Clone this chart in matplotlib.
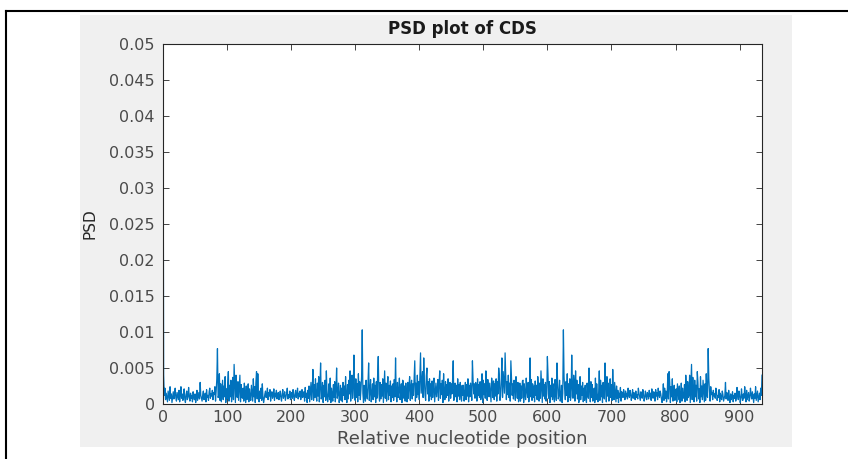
# PSD plot of CDS, MATLAB-style figure.

import numpy as np
import matplotlib.pyplot as plt
from matplotlib.lines import Line2D
from matplotlib.patches import Rectangle

# PSD values for k = 0..468 in units of 1e-4.
# The spectrum of a real sequence is symmetric, so the rest is the mirror.
psd_half_e4 = [
    495, 40, 12, 22, 6, 15, 9, 3, 18, 11, 5, 24, 8, 14, 2, 10, 17, 7, 13, 22,
    9, 4, 16, 11, 6, 19, 3, 12, 24, 8, 14, 5, 10, 21, 7, 2, 13, 18, 6, 11,
    23, 9, 4, 15, 8, 12, 3, 17, 10, 6, 14, 2, 9, 19, 5, 11, 16, 7, 30, 12,
    8, 4, 13, 18, 6, 10, 15, 3, 20, 9, 12, 5, 17, 22, 8, 14, 11, 19, 6, 16,
    13, 24, 4, 18, 35, 77, 9, 12, 42, 5, 28, 3, 19, 33, 6, 25, 10, 38, 2, 21,
    7, 30, 45, 4, 26, 10, 33, 3, 15, 37, 6, 55, 28, 2, 40, 12, 9, 31, 5, 24,
    40, 3, 27, 10, 8, 22, 4, 29, 11, 2, 25, 6, 16, 28, 3, 21, 9, 5, 26, 14,
    4, 35, 10, 24, 2, 30, 45, 7, 42, 12, 3, 18, 8, 22, 5, 28, 11, 2, 7, 14,
    18, 9, 13, 22, 6, 16, 11, 20, 4, 14, 17, 8, 12, 21, 5, 15, 10, 19, 7, 13,
    16, 6, 11, 18, 9, 4, 14, 20, 8, 12, 17, 5, 10, 15, 22, 7, 13, 9, 18, 6,
    12, 16, 8, 20, 11, 5, 14, 19, 9, 13, 22, 7, 15, 10, 18, 6, 12, 20, 9, 14,
    17, 4, 23, 9, 15, 2, 19, 8, 25, 3, 16, 30, 6, 20, 48, 5, 27, 9, 35, 12,
    4, 29, 11, 38, 3, 25, 57, 7, 12, 30, 2, 26, 10, 33, 5, 46, 15, 3, 12, 28,
    6, 36, 2, 22, 14, 4, 27, 9, 31, 3, 20, 50, 8, 14, 29, 2, 10, 26, 5, 22,
    3, 30, 12, 25, 6, 38, 10, 2, 27, 7, 33, 14, 46, 4, 29, 40, 8, 23, 68, 11,
    5, 35, 9, 28, 3, 42, 12, 31, 6, 20, 38, 103, 15, 2, 26, 9, 4, 33, 12, 7,
    29, 57, 5, 16, 34, 3, 13, 28, 6, 36, 10, 26, 2, 31, 8, 40, 66, 14, 4, 30,
    7, 27, 11, 35, 2, 24, 46, 8, 29, 4, 23, 38, 6, 26, 12, 32, 3, 25, 9, 28,
    5, 34, 10, 64, 14, 3, 30, 9, 18, 36, 6, 14, 28, 2, 33, 32, 8, 25, 4, 29,
    10, 3, 30, 8, 26, 38, 5, 24, 33, 7, 28, 12, 35, 60, 4, 29, 9, 40, 13, 31,
    6, 36, 71, 15, 30, 45, 9, 64, 33, 12, 5, 39, 50, 14, 31, 4, 35, 11, 28, 6,
    32, 9, 27, 36, 3, 16, 29, 10, 20, 34, 5, 30, 46, 8, 28, 13, 33, 2, 42, 15,
    6, 31, 9, 27, 12, 35, 4, 25, 30, 8, 28, 14, 33, 60, 5, 19, 29, 10, 26, 3,
    35, 11, 27, 6, 30, 14, 4, 26, 12,
]

x_ticks = [0, 100, 200, 300, 400, 500, 600, 700, 800, 900]
y_ticks = [0, 0.005, 0.01, 0.015, 0.02, 0.025, 0.03, 0.035, 0.04, 0.045, 0.05]
y_tick_labels = ['0', '0.005', '0.01', '0.015', '0.02', '0.025',
                 '0.03', '0.035', '0.04', '0.045', '0.05']

half = np.array(psd_half_e4) * 1e-4
psd = np.concatenate([half, half[1:-1][::-1]])
pos = np.arange(len(psd))

plt.rcParams['font.family'] = ['DejaVu Sans']

W, H = 848, 459
fig = plt.figure(figsize=(W / 100, H / 100), dpi=100)
fig.patch.set_facecolor('white')

# gray MATLAB figure area and the black frame around the screenshot
fig.add_artist(Rectangle((80 / W, 1 - 447 / H), 712 / W, 432 / H,
                         transform=fig.transFigure, facecolor='#f0f0f0',
                         edgecolor='none', zorder=0))
fig.add_artist(Line2D([6 / W, 1], [1 - 11 / H, 1 - 11 / H],
                      transform=fig.transFigure, color='black', lw=1.5))
fig.add_artist(Line2D([6 / W, 6 / W], [0, 1 - 11 / H],
                      transform=fig.transFigure, color='black', lw=1.5))

ax = fig.add_axes([163 / W, 1 - 404 / H, 599 / W, 360 / H])
ax.set_facecolor('white')
ax.plot(pos, psd, color='#0072BD', lw=0.9)

ax.set_xlim(0, 935)
ax.set_ylim(0, 0.05)
ax.set_xticks(x_ticks)
ax.set_yticks(y_ticks)
ax.set_yticklabels(y_tick_labels)

for s in ax.spines.values():
    s.set_color('#262626')
    s.set_linewidth(0.8)
ax.tick_params(direction='in', length=4, width=0.6, colors='#262626',
               labelcolor='#4a4a4a', labelsize=11.5, top=True, right=True)
ax.tick_params(axis='x', pad=4)
ax.tick_params(axis='y', pad=6)

ax.set_title('PSD plot of CDS', fontsize=12, fontweight='bold', pad=7,
             color='#1a1a1a')
ax.set_xlabel('Relative nucleotide position', fontsize=13, color='#4a4a4a')
ax.xaxis.set_label_coords(0.5, -0.072)
ax.xaxis.label.set_va('top')
ax.set_ylabel('PSD', fontsize=11, color='#262626')
ax.yaxis.set_label_coords(-0.11, 0.5)

fig.savefig('out.png', dpi=100)
